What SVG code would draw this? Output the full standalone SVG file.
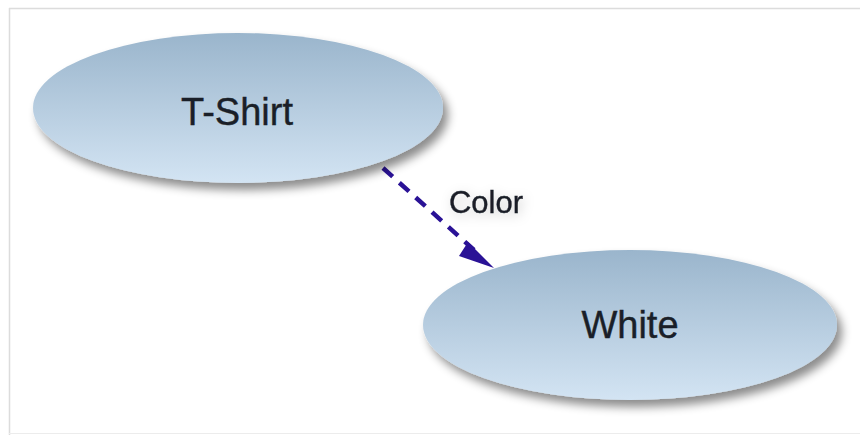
<svg xmlns="http://www.w3.org/2000/svg" width="860" height="435" viewBox="0 0 860 435">
<style>
.node ellipse{fill:url(#g);filter:url(#sh)}
.lbl{font-family:"Liberation Sans",Arial,sans-serif;fill:#1a1f28;stroke:#1a1f28;stroke-width:0.4;text-anchor:middle}
.edge{stroke:#2a1296;stroke-width:4.5;stroke-dasharray:13 9;fill:none}
</style>
<defs>
<linearGradient id="g" x1="0" y1="0" x2="0" y2="1">
<stop offset="0" stop-color="#9ab5cc"/>
<stop offset="1" stop-color="#d3e4f3"/>
</linearGradient>
<filter id="sh" x="-20%" y="-30%" width="140%" height="170%">
<feDropShadow dx="5" dy="7" stdDeviation="5" flood-color="#000" flood-opacity="0.45"/>
</filter>
<filter id="ts" x="-20%" y="-30%" width="140%" height="170%">
<feDropShadow dx="2" dy="3" stdDeviation="6" flood-color="#000" flood-opacity="0.2"/>
</filter>
</defs>
<rect width="860" height="435" fill="#fff"/>
<line x1="9" y1="8.5" x2="860" y2="8.5" stroke="#dcdcdc" stroke-width="1.5"/>
<line x1="9.5" y1="8" x2="9.5" y2="435" stroke="#dcdcdc" stroke-width="1.5"/>
<line x1="9" y1="433.5" x2="860" y2="433.5" stroke="#ececec" stroke-width="1"/>
<g id="connectors">
<line class="edge" x1="383" y1="168" x2="474" y2="250"/>
<path d="M468,242 L494,268 L459,256 z" fill="#2a1296"/>
<text class="lbl" x="486" y="213" font-size="31" filter="url(#ts)">Color</text>
</g>
<g id="tshirt" class="node">
<ellipse cx="238" cy="108" rx="205" ry="75"/>
<text class="lbl" x="237" y="125" font-size="38">T-Shirt</text>
</g>
<g id="white" class="node">
<ellipse cx="630" cy="325" rx="207" ry="75"/>
<text class="lbl" x="630" y="338" font-size="38">White</text>
</g>
</svg>
